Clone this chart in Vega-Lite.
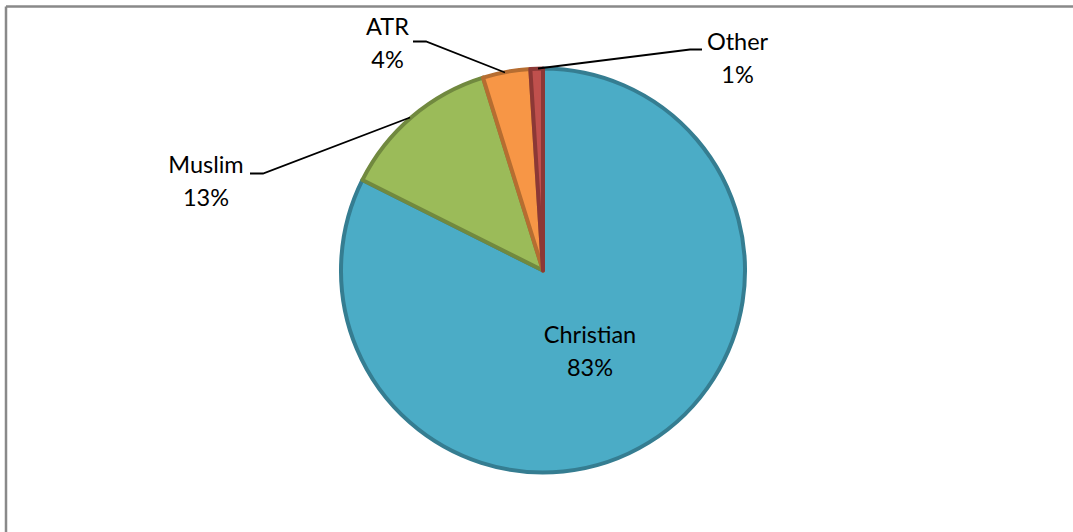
{
  "$schema": "https://vega.github.io/schema/vega-lite/v6.json",
  "width": 1073,
  "height": 532,
  "autosize": {"type": "none"},
  "padding": 0,
  "background": "white",
  "view": {"stroke": null},
  "datasets": {
    "pie": [
      {"religion": "Christian", "share": 82.4, "ord": 1},
      {"religion": "Muslim", "share": 12.8, "ord": 2},
      {"religion": "ATR", "share": 3.8, "ord": 3},
      {"religion": "Other", "share": 1.0, "ord": 4}
    ],
    "labels": [
      {"name": "Christian", "pct": "83%", "lx": 47, "ly": -81.5},
      {"name": "Muslim", "pct": "13%", "lx": -337, "ly": 88},
      {"name": "ATR", "pct": "4%", "lx": -155.5, "ly": 226},
      {"name": "Other", "pct": "1%", "lx": 194.5, "ly": 211.5}
    ],
    "leaders": [
      {"id": "Muslim", "k": 1, "px": -293, "py": 97},
      {"id": "Muslim", "k": 2, "px": -280, "py": 97},
      {"id": "Muslim", "k": 3, "px": -133, "py": 153},
      {"id": "ATR", "k": 1, "px": -130, "py": 229},
      {"id": "ATR", "k": 2, "px": -117, "py": 229},
      {"id": "ATR", "k": 3, "px": -38, "py": 198},
      {"id": "Other", "k": 1, "px": 159, "py": 221},
      {"id": "Other", "k": 2, "px": 147, "py": 221},
      {"id": "Other", "k": 3, "px": -5, "py": 202}
    ],
    "frame": [
      {"id": "top", "k": 1, "px": -537, "py": 264},
      {"id": "top", "k": 2, "px": 540, "py": 264},
      {"id": "left", "k": 1, "px": -537, "py": 264},
      {"id": "left", "k": 2, "px": -537, "py": -270}
    ]
  },
  "layer": [
    {
      "data": {"name": "frame"},
      "mark": {"type": "line", "color": "#898989", "strokeWidth": 2.5, "clip": false},
      "encoding": {
        "x": {"field": "px", "type": "quantitative", "scale": {"domain": [-543, 530], "nice": false, "zero": false}, "axis": null},
        "y": {"field": "py", "type": "quantitative", "scale": {"domain": [-261.5, 270.5], "nice": false, "zero": false}, "axis": null},
        "detail": {"field": "id"},
        "order": {"field": "k"}
      }
    },
    {
      "data": {"name": "pie"},
      "mark": {"type": "arc", "radius": 202, "strokeWidth": 4, "strokeJoin": "round"},
      "encoding": {
        "x": {"datum": 0, "type": "quantitative"},
        "y": {"datum": 0, "type": "quantitative"},
        "theta": {"field": "share", "type": "quantitative", "stack": true},
        "order": {"field": "ord", "type": "quantitative"},
        "color": {"field": "religion", "type": "nominal", "legend": null,
          "scale": {"domain": ["Christian", "Muslim", "ATR", "Other"], "range": ["#4BACC6", "#9BBB59", "#F79646", "#C0504D"]}},
        "stroke": {"field": "religion", "type": "nominal", "legend": null,
          "scale": {"domain": ["Christian", "Muslim", "ATR", "Other"], "range": ["#357D91", "#71893F", "#B66D31", "#8C3836"]}}
      }
    },
    {
      "data": {"name": "leaders"},
      "mark": {"type": "line", "color": "#000000", "strokeWidth": 1.8},
      "encoding": {
        "x": {"field": "px", "type": "quantitative"},
        "y": {"field": "py", "type": "quantitative"},
        "detail": {"field": "id"},
        "order": {"field": "k"}
      }
    },
    {
      "data": {"name": "labels"},
      "mark": {"type": "text", "font": "Lato", "fontSize": 23.5, "color": "#000000", "baseline": "middle", "align": "center", "dy": -16.5},
      "encoding": {
        "x": {"field": "lx", "type": "quantitative"},
        "y": {"field": "ly", "type": "quantitative"},
        "text": {"field": "name"}
      }
    },
    {
      "data": {"name": "labels"},
      "mark": {"type": "text", "font": "Lato", "fontSize": 23.5, "color": "#000000", "baseline": "middle", "align": "center", "dy": 16.5},
      "encoding": {
        "x": {"field": "lx", "type": "quantitative"},
        "y": {"field": "ly", "type": "quantitative"},
        "text": {"field": "pct"}
      }
    }
  ]
}
